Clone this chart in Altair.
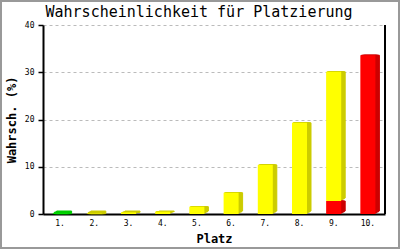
import altair as alt
import pandas as pd

platz = ["1.", "2.", "3.", "4.", "5.", "6.", "7.", "8.", "9.", "10."]
green_part = [0.08, 0, 0, 0, 0, 0, 0, 0, 0, 0]
red_part = [0, 0, 0, 0, 0, 0, 0, 0, 2.75, 33.6]
yellow_part = [0, 0.08, 0.35, 0.5, 1.55, 4.5, 10.4, 19.3, 27.35, 0]

groups = ["green", "yellow", "red"]
front_colors = ["#00ff00", "#ffff00", "#ff0000"]
side_colors = ["#00cc00", "#cccc00", "#cc0000"]

rows = []
for i, p in enumerate(platz):
    base = 0.0
    for grp, vals in (("red", red_part), ("green", green_part), ("yellow", yellow_part)):
        v = vals[i]
        if v > 0:
            rows.append({"platz": p, "grp": grp, "y0": base, "y1": base + v})
            base += v
df = pd.DataFrame(rows)

FONT = "DejaVu Sans Mono"

xenc = alt.X("platz:N", sort=platz, title="Platz",
             scale=alt.Scale(paddingInner=0, paddingOuter=0),
             axis=alt.Axis(ticks=False, labelPadding=5, labelAngle=0, grid=False,
                           domainColor="black", domainWidth=2, titlePadding=6))
yenc = alt.Y("y0:Q", title="Wahrsch. (%)",
             scale=alt.Scale(domain=[0, 40], nice=False),
             axis=alt.Axis(values=[0, 10, 20, 30, 40], tickSize=5, tickColor="black",
                           tickWidth=1.5, grid=True, gridDash=[3, 3], gridColor="#bbbbbb",
                           domainColor="black", domainWidth=2, labelPadding=4,
                           titlePadding=6))

layers = []
for dx, dy in [(1, -1), (2, -2), (3, -2), (4, -3)]:
    layers.append(
        alt.Chart(df).mark_bar(size=15, xOffset=dx, yOffset=dy, strokeWidth=1).encode(
            x=xenc, y=yenc, y2="y1",
            color=alt.Color("grp:N", scale=alt.Scale(domain=groups, range=side_colors), legend=None),
            stroke=alt.Stroke("grp:N", scale=alt.Scale(domain=groups, range=side_colors), legend=None),
        )
    )

front = alt.Chart(df).mark_bar(size=15).encode(
    x=xenc, y=yenc, y2="y1",
    color=alt.Color("grp:N", scale=alt.Scale(domain=groups, range=front_colors), legend=None),
)

one = pd.DataFrame({"a": [0]})
right_line = alt.Chart(one).mark_rule(color="black", strokeWidth=2).encode(
    x=alt.value(342), y=alt.value(0), y2=alt.value(189))
border = alt.Chart(one).mark_rect(filled=False, stroke="#999999", strokeWidth=2, clip=False).encode(
    x=alt.value(-42), x2=alt.value(356), y=alt.value(-24), y2=alt.value(223))

chart = alt.layer(*layers, front, right_line, border).resolve_scale(
    color="independent", stroke="independent"
).properties(
    width=342, height=189,
    padding={"left": 43, "top": 25, "right": 15, "bottom": 36},
    autosize="none",
    title=alt.Title("Wahrscheinlichkeit für Platzierung", font=FONT, fontSize=15,
                    fontWeight="normal", anchor="middle", dx=-15, dy=39, offset=7,
                    baseline="alphabetic", color="black"),
).configure_axis(
    labelFont=FONT, labelFontSize=8, labelColor="black",
    titleFont=FONT, titleFontSize=12, titleFontWeight="bold", titleColor="black",
).configure_view(strokeWidth=0)

chart.save("out.html", embed_options={"renderer": "svg", "actions": False})
